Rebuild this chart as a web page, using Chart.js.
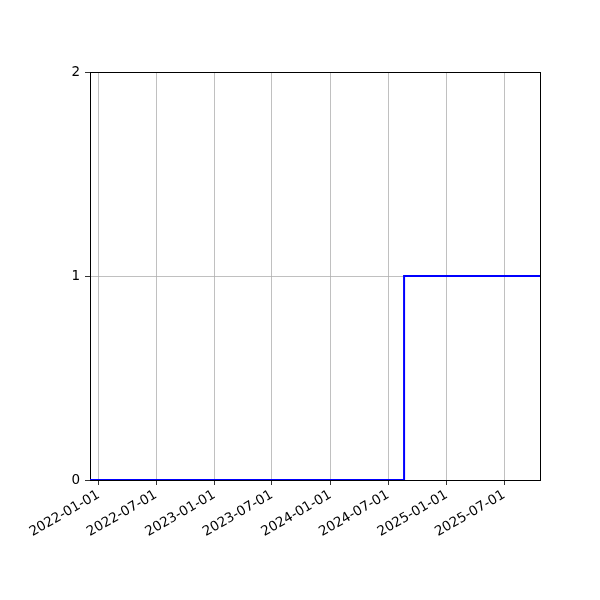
<!DOCTYPE html>
<html>
<head>
<meta charset="utf-8">
<script src="https://cdn.jsdelivr.net/npm/chart.js@4"></script>
<style>
  html, body { margin: 0; padding: 0; background: #fff; }
  #wrap { width: 600px; height: 600px; }
</style>
</head>
<body>
<div id="wrap"><canvas id="chart" width="600" height="600"></canvas></div>
<script>
// dados
const stepDates = ['2021-12-05', '2024-08-20', '2025-10-22'];
const stepValues = [0, 1, 1];
const xTickLabels = ['2022-01-01', '2022-07-01', '2023-01-01', '2023-07-01', '2024-01-01', '2024-07-01', '2025-01-01', '2025-07-01'];
const yTickValues = [0, 1, 2];

const toMs = s => Date.parse(s + 'T00:00:00Z');

// moldura completa (spines de cima e da direita), por baixo da linha
const frame = {
    id: 'frame',
    beforeDatasetsDraw(chart) {
        const { ctx, chartArea: a } = chart;
        ctx.save();
        ctx.strokeStyle = '#000';
        ctx.lineWidth = 1;
        ctx.strokeRect(Math.round(a.left) + 0.5, Math.round(a.top) + 0.5,
            Math.round(a.right - a.left), Math.round(a.bottom - a.top));
        ctx.restore();
    }
};

new Chart(document.getElementById('chart'), {
    type: 'line',
    data: {
        datasets: [{
            data: stepDates.map((d, i) => ({ x: toMs(d), y: stepValues[i] })),
            borderColor: '#0000ff',
            borderWidth: 2,
            stepped: 'before',
            pointRadius: 0,
            fill: false
        }]
    },
    plugins: [frame],
    options: {
        responsive: false,
        animation: false,
        layout: { padding: { top: 72, right: 60, left: 0, bottom: 0 } },
        plugins: { legend: { display: false }, tooltip: { enabled: false } },
        scales: {
            x: {
                type: 'linear',
                min: toMs(stepDates[0]),
                max: toMs(stepDates[stepDates.length - 1]),
                afterBuildTicks: s => { s.ticks = xTickLabels.map(l => ({ value: toMs(l) })); },
                afterFit: s => { s.height = 120; },
                ticks: {
                    autoSkip: false,
                    minRotation: 30,
                    maxRotation: 30,
                    padding: 2,
                    color: '#000',
                    font: { family: 'DejaVu Sans', size: 13.5 },
                    callback: (v, i) => xTickLabels[i]
                },
                grid: { color: '#b0b0b0', lineWidth: 0.8, tickColor: '#000', tickLength: 5 },
                border: { display: false }
            },
            y: {
                min: 0,
                max: 2,
                afterBuildTicks: s => { s.ticks = yTickValues.map(v => ({ value: v })); },
                afterFit: s => { s.width = 90; },
                ticks: {
                    padding: 5,
                    color: '#000',
                    font: { family: 'DejaVu Sans', size: 13.5 }
                },
                grid: { color: '#b0b0b0', lineWidth: 0.8, tickColor: '#000', tickLength: 5 },
                border: { display: false }
            }
        }
    }
});
</script>
</body>
</html>
